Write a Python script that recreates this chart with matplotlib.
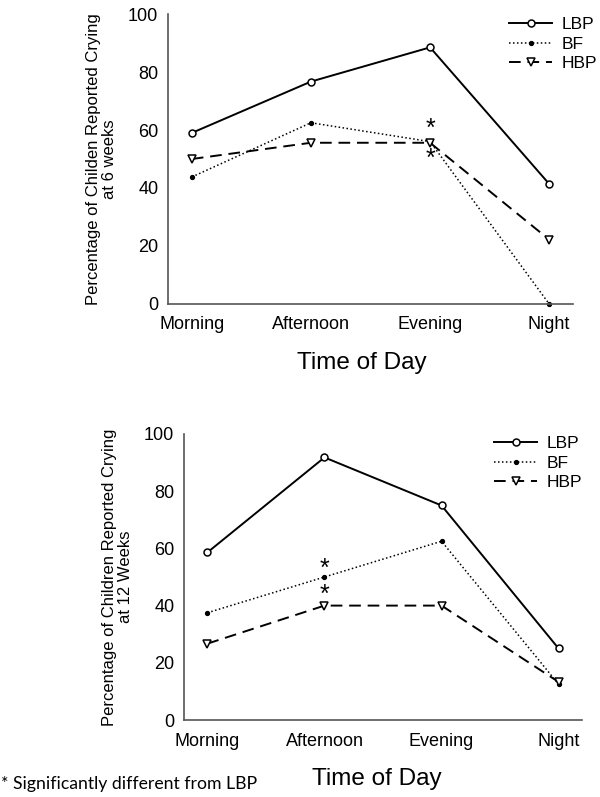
import matplotlib
matplotlib.use("Agg")
from matplotlib import pyplot as plt

plt.rcParams['font.family'] = ['Liberation Sans', 'DejaVu Sans']

times = ["Morning", "Afternoon", "Evening", "Night"]

# 6 weeks
lbp_6 = [59, 76.7, 88.5, 41.4]
bf_6 = [43.8, 62.5, 56, 0]
hbp_6 = [50, 55.6, 55.6, 22.2]

# 12 weeks
lbp_12 = [58.6, 91.8, 75, 25]
bf_12 = [37.5, 50, 62.5, 12.5]
hbp_12 = [26.7, 40, 40, 13.3]

yticks = [0, 20, 40, 60, 80, 100]


def panel(ax, lbp, bf, hbp, ylabel, stars, legend_at, xlabel_x):
	x = range(len(times))
	ax.plot(x, lbp, color="black", lw=1.4, marker="o", ms=5, mfc="white", mew=1.1, label="LBP", clip_on=False)
	ax.plot(x, bf, color="black", lw=1.1, ls=(0, (1, 1.6)), marker="o", ms=2.8, label="BF", clip_on=False)
	ax.plot(x, hbp, color="black", lw=1.4, ls=(0, (6, 3.5)), marker="v", ms=5.5, mfc="white", mew=1.1, label="HBP", clip_on=False)
	for sx, sy in stars:
		ax.text(sx, sy, "*", ha="center", va="center", fontsize=18)
	ax.set_xlim(-0.2, 3.2)
	ax.set_ylim(0, 100)
	ax.set_xticks(list(x))
	ax.set_xticklabels(times, fontsize=13)
	ax.set_yticks(yticks)
	ax.set_yticklabels([str(v) for v in yticks], fontsize=13)
	ax.tick_params(length=0, pad=7)
	ax.tick_params(axis="x", pad=9)
	for s in ["top", "right"]:
		ax.spines[s].set_visible(False)
	for s in ["left", "bottom"]:
		ax.spines[s].set_color("#555555")
		ax.spines[s].set_linewidth(1.2)
	ax.set_ylabel(ylabel, fontsize=12, labelpad=8, linespacing=1.1)
	ax.set_xlabel("Time of Day", fontsize=17.5, labelpad=13)
	ax.xaxis.label.set_x(xlabel_x)
	ax.legend(loc="upper left", bbox_to_anchor=legend_at, bbox_transform=fig.transFigure,
		frameon=False, fontsize=12.5, borderpad=0, borderaxespad=0,
		handlelength=2.5, handletextpad=0.55, labelspacing=0.25)


fig = plt.figure(figsize=(6, 7.97), dpi=100)
ax1 = fig.add_axes([0.28, 0.6186, 0.675, 0.3638])
ax2 = fig.add_axes([0.3067, 0.0966, 0.6633, 0.3589])

panel(ax1, lbp_6, bf_6, hbp_6, "Percentage of Childen Reported Crying\nat 6 weeks",
	[(2, 60.5), (2, 50)], (509 / 600, 1 - 17 / 797), 0.478)
panel(ax2, lbp_12, bf_12, hbp_12, "Percentage of Children Reported Crying\nat 12 Weeks",
	[(1, 53), (1, 43.7)], (494 / 600, 1 - 436 / 797), 0.484)

fig.text(0.002, 0.006, "* Significantly different from LBP", fontsize=12.7, family="Lato", ha="left", va="bottom")

fig.savefig("out.png", dpi=100)
